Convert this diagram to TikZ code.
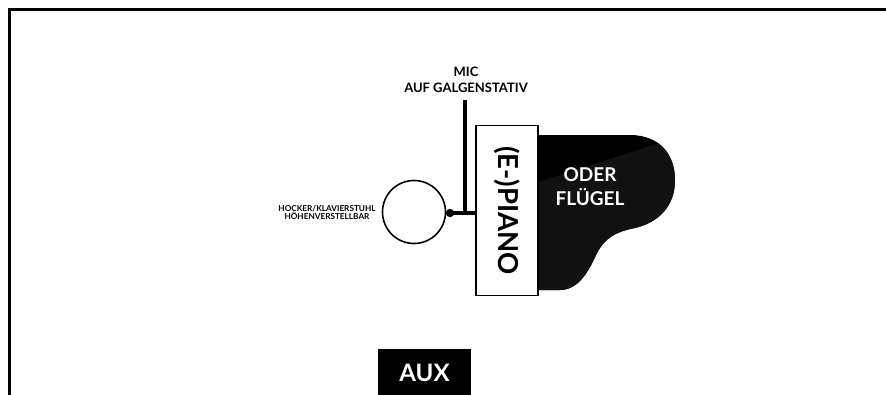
\documentclass[tikz,border=0pt]{standalone}
\usepackage{fontspec}
\setmainfont{Lato}
\begin{document}
\begin{tikzpicture}[x=1pt,y=-1pt,
  lbl/.style={font=\bfseries, align=center, inner sep=0pt},
  wlbl/.style={lbl, text=white}]
\useasboundingbox (0,0) rectangle (886,394);
\clip (0,0) rectangle (886,394);
% frame
\draw[line width=3pt] (9,400) -- (9,9) -- (890,9);
% grand piano body
\fill[black] (530,135) -- (630,135) .. controls (660,135) and (675,155) .. (675,180)
  .. controls (675,205) and (660,222) .. (635,228)
  .. controls (615,232) and (605,238) .. (597,253)
  .. controls (590,268) and (580,290) .. (560,290) -- (530,290) -- cycle;
\begin{scope}
\clip (530,135) -- (630,135) .. controls (660,135) and (675,155) .. (675,180)
  .. controls (675,205) and (660,222) .. (635,228)
  .. controls (615,232) and (605,238) .. (597,253)
  .. controls (590,268) and (580,290) .. (560,290) -- (530,290) -- cycle;
\fill[black!93!white] (560,175) -- (700,130) -- (700,300) -- (530,300) -- (530,185) -- cycle;
\end{scope}
\node[wlbl, font=\bfseries\fontsize{19}{24}\selectfont] (fluegel) at (590,187) {ODER\\FLÜGEL};
% piano box
\node[draw, line width=1.2pt, fill=white, minimum width=62pt, minimum height=170pt, inner sep=0pt] (piano) at (507,210.5) {};
\node[lbl, rotate=-90, font=\bfseries\fontsize{27.5}{30}\selectfont] (pianotxt) at (piano.center) {(E-)PIANO};
% stool
\node[draw, circle, line width=1.6pt, minimum size=63pt, inner sep=0pt] (stool) at (414,212) {};
\node[lbl, font=\bfseries\fontsize{8.2}{7.8}\selectfont] (stooltxt) at (327,212.5) {HOCKER/KLAVIERSTUHL\\HÖHENVERSTELLBAR};
% mic
\coordinate (dot) at (450,213);
\coordinate (top) at (465,100);
\fill (dot) circle (4.2pt);
\draw[line width=3.5pt] (top) -- (465,213);
\draw[line width=3.5pt] (dot) -- (piano.west |- dot);
\node[lbl, font=\bfseries\fontsize{13}{15.5}\selectfont] (mictxt) at (466,80) {MIC\\AUF GALGENSTATIV};
% aux
\node[fill=black, minimum width=93pt, minimum height=60pt, inner sep=0pt] (aux) at (424.5,379) {};
\node[wlbl, font=\bfseries\fontsize{24}{28}\selectfont] (auxtxt) at (424.5,373) {AUX};
\end{tikzpicture}
\end{document}
